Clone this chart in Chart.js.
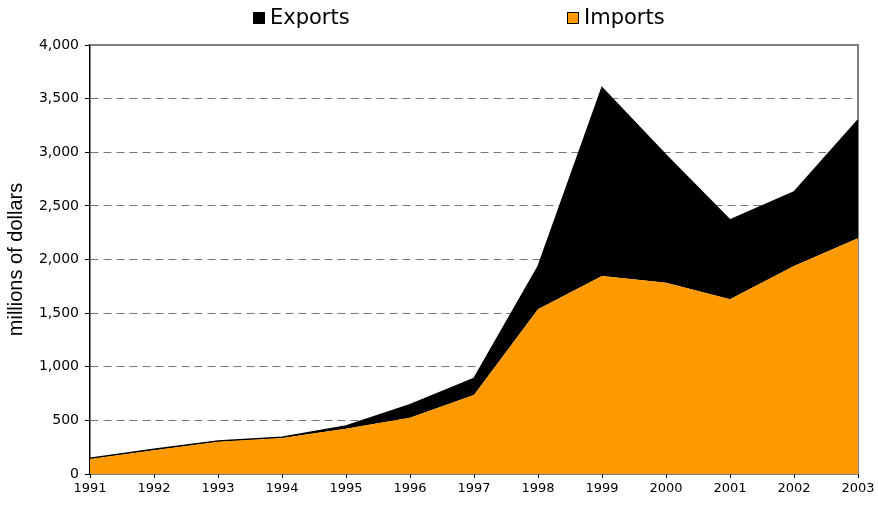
<!DOCTYPE html>
<html>
<head>
<meta charset="utf-8">
<script src="https://cdn.jsdelivr.net/npm/chart.js@4/dist/chart.umd.min.js"></script>
<style>
  html, body { margin: 0; padding: 0; background: #ffffff; }
  #wrap { width: 878px; height: 508px; position: relative; }
</style>
</head>
<body>
<div id="wrap"><canvas id="c" width="878" height="508"></canvas></div>
<script>
const years = ['1991','1992','1993','1994','1995','1996','1997','1998','1999','2000','2001','2002','2003'];
const imports = [140, 222, 300, 335, 422, 525, 737, 1535, 1846, 1784, 1629, 1939, 2198];
const exports = [8, 8, 8, 7, 26, 121, 155, 398, 1756, 1190, 739, 690, 1103];
const legendNames = ['Exports', 'Imports'];
const legendColors = ['#000000', '#FF9900'];

const FONT = '"DejaVu Sans", sans-serif';
const TITLE_FONT = '"Liberation Sans", Arial, sans-serif';

const framePlugin = {
  id: 'frame',
  beforeDatasetsDraw(chart) {
    const {ctx, chartArea: a} = chart;
    ctx.save();
    ctx.strokeStyle = '#808080';
    ctx.lineWidth = 2;
    ctx.beginPath();
    ctx.moveTo(a.left, a.top);
    ctx.lineTo(a.right, a.top);
    ctx.lineTo(a.right, a.bottom);
    ctx.stroke();
    ctx.restore();
  },
  afterDraw(chart) {
    const {ctx} = chart;
    ctx.save();
    ctx.font = '21px ' + FONT;
    ctx.textBaseline = 'middle';
    const xs = [253, 567];
    const y = 18;
    legendNames.forEach((n, i) => {
      ctx.fillStyle = legendColors[i];
      ctx.fillRect(xs[i], y - 6, 12, 12);
      ctx.strokeStyle = '#000';
      ctx.lineWidth = 1;
      ctx.strokeRect(xs[i] + 0.5, y - 5.5, 11, 11);
      ctx.fillStyle = '#000';
      ctx.textAlign = 'left';
      ctx.fillText(n, xs[i] + 17, y + 1);
    });
    ctx.restore();
  }
};

new Chart(document.getElementById('c'), {
  type: 'line',
  data: {
    labels: years,
    datasets: [
      {
        label: 'Imports',
        data: imports,
        backgroundColor: '#FF9900',
        borderColor: '#FF9900',
        borderWidth: 0,
        fill: 'origin',
        pointRadius: 0,
        tension: 0
      },
      {
        label: 'Exports',
        data: exports,
        backgroundColor: '#000000',
        borderColor: '#000000',
        borderWidth: 1.5,
        fill: '-1',
        pointRadius: 0,
        tension: 0
      }
    ]
  },
  options: {
    responsive: false,
    animation: false,
    layout: { padding: { top: 45, right: 20, left: 0, bottom: 0 } },
    plugins: { legend: { display: false }, tooltip: { enabled: false } },
    scales: {
      x: {
        offset: false,
        grid: { display: true, drawOnChartArea: false, drawTicks: true, tickLength: 4, tickColor: '#000' },
        border: { display: true, color: '#000', width: 1.5 },
        ticks: { color: '#000', font: { family: FONT, size: 13 }, maxRotation: 0, autoSkip: false, padding: 3 },
        afterFit(s) { s.height = 34; }
      },
      y: {
        stacked: true,
        min: 0, max: 4000,
        grid: {
          color: (c) => (c.tick && (c.tick.value === 0 || c.tick.value === 4000)) ? 'rgba(0,0,0,0)' : '#777777',
          lineWidth: 1,
          drawTicks: true, tickLength: 5, tickColor: '#000'
        },
        border: { display: true, color: '#000', width: 1.5, dash: [8, 5] },
        ticks: {
          stepSize: 500, color: '#000', font: { family: FONT, size: 14 }, padding: 6,
          callback: (v) => v.toLocaleString('en-US')
        },
        title: { display: true, text: 'millions of dollars', color: '#000', font: { family: TITLE_FONT, size: 20 }, padding: { top: 4, bottom: 0 } },
        afterFit(s) { s.width = 90; }
      }
    }
  },
  plugins: [framePlugin]
});
</script>
</body>
</html>
